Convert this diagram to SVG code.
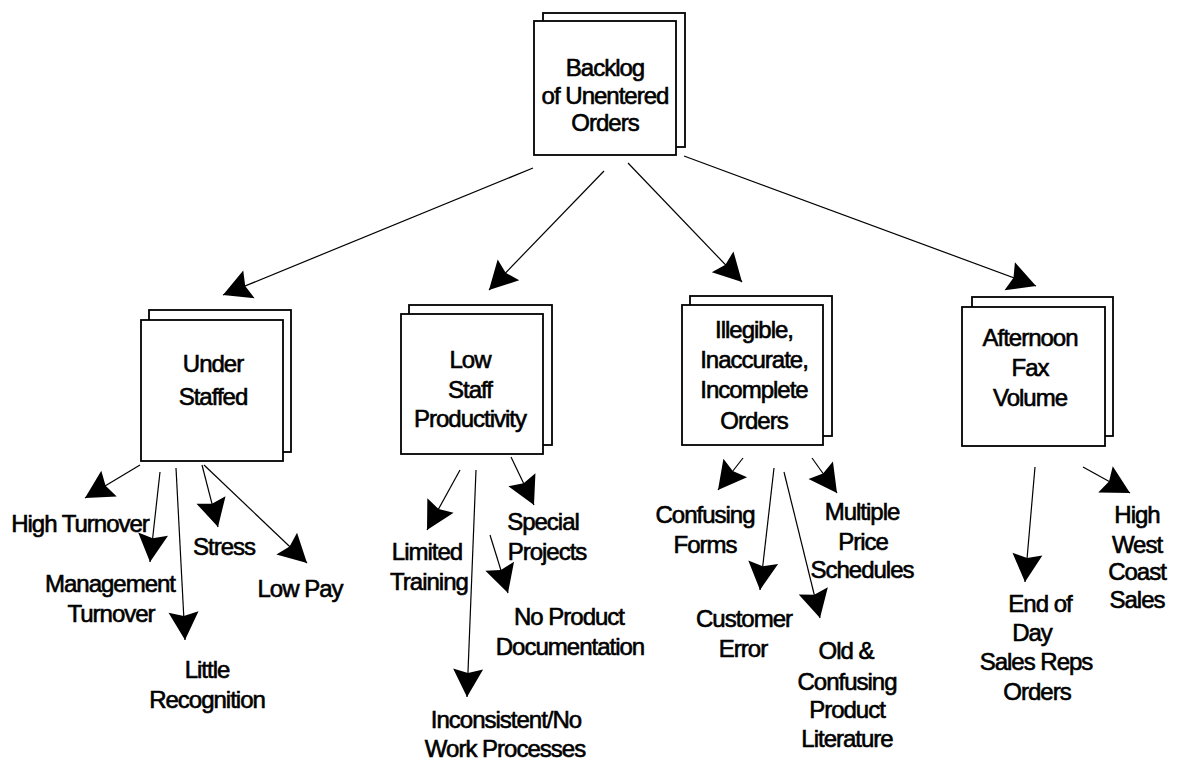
<svg xmlns="http://www.w3.org/2000/svg" width="1185" height="763" viewBox="0 0 1185 763">
  <defs>
    <style>
      .box { fill: #fff; stroke: #000; stroke-width: 1.8; }
      .lbl { font-family: "Liberation Sans", Arial, sans-serif; font-size: 24px; letter-spacing: -1px; fill: #000; stroke: #000; stroke-width: 0.6; text-anchor: middle; }
      .cn line { stroke: #000; stroke-width: 1.2; marker-end: url(#ah); }
    </style>
    <marker id="ah" markerUnits="userSpaceOnUse" markerWidth="34" markerHeight="34" viewBox="-30 -17 34 34" refX="0" refY="0" orient="auto">
      <path d="M0,0 L-28,-15 L-24,0 L-28,15 Z" fill="#000"/>
    </marker>
  </defs>
  <rect width="1185" height="763" fill="#fff"/>

  <!-- root problem -->
  <g id="backlog">
    <rect class="box" x="543" y="13" width="142" height="134"/>
    <rect class="box" x="534" y="21" width="142" height="134"/>
    <text class="lbl" x="605" y="76">Backlog</text>
    <text class="lbl" x="605" y="104">of Unentered</text>
    <text class="lbl" x="605" y="131">Orders</text>
  </g>

  <!-- first-level causes -->
  <g id="under-staffed">
    <rect class="box" x="149" y="310" width="142" height="142"/>
    <rect class="box" x="141" y="320" width="142" height="141"/>
    <text class="lbl" x="213" y="372">Under</text>
    <text class="lbl" x="213" y="405">Staffed</text>
  </g>
  <g id="low-staff-productivity">
    <rect class="box" x="409" y="305" width="143" height="140"/>
    <rect class="box" x="401" y="314" width="142" height="140"/>
    <text class="lbl" x="470" y="368">Low</text>
    <text class="lbl" x="470" y="398">Staff</text>
    <text class="lbl" x="470" y="427">Productivity</text>
  </g>
  <g id="illegible-orders">
    <rect class="box" x="690" y="296" width="142" height="140"/>
    <rect class="box" x="682" y="305" width="141" height="140"/>
    <text class="lbl" x="754" y="338">Illegible,</text>
    <text class="lbl" x="754" y="368">Inaccurate,</text>
    <text class="lbl" x="754" y="398">Incomplete</text>
    <text class="lbl" x="754" y="429">Orders</text>
  </g>
  <g id="afternoon-fax">
    <rect class="box" x="972" y="297" width="141" height="139"/>
    <rect class="box" x="962" y="307" width="143" height="139"/>
    <text class="lbl" x="1030" y="346">Afternoon</text>
    <text class="lbl" x="1030" y="376">Fax</text>
    <text class="lbl" x="1030" y="406">Volume</text>
  </g>

  <!-- second-level causes -->
  <g id="high-turnover"><text class="lbl" x="80" y="532">High Turnover</text></g>
  <g id="management-turnover">
    <text class="lbl" x="110" y="592">Management</text>
    <text class="lbl" x="111" y="622">Turnover</text>
  </g>
  <g id="little-recognition">
    <text class="lbl" x="207" y="678">Little</text>
    <text class="lbl" x="207" y="708">Recognition</text>
  </g>
  <g id="stress"><text class="lbl" x="224" y="555">Stress</text></g>
  <g id="low-pay"><text class="lbl" x="300" y="597">Low Pay</text></g>

  <g id="limited-training">
    <text class="lbl" x="427" y="560">Limited</text>
    <text class="lbl" x="429" y="590">Training</text>
  </g>
  <g id="special-projects">
    <text class="lbl" x="543" y="530">Special</text>
    <text class="lbl" x="547" y="560">Projects</text>
  </g>
  <g id="no-product-documentation">
    <text class="lbl" x="569" y="625">No Product</text>
    <text class="lbl" x="570" y="655">Documentation</text>
  </g>
  <g id="inconsistent-processes">
    <text class="lbl" x="506" y="728">Inconsistent/No</text>
    <text class="lbl" x="505" y="757">Work Processes</text>
  </g>

  <g id="confusing-forms">
    <text class="lbl" x="705" y="523">Confusing</text>
    <text class="lbl" x="705" y="553">Forms</text>
  </g>
  <g id="customer-error">
    <text class="lbl" x="744" y="627">Customer</text>
    <text class="lbl" x="743" y="657">Error</text>
  </g>
  <g id="old-literature">
    <text class="lbl" x="846" y="659">Old &amp;</text>
    <text class="lbl" x="847" y="690">Confusing</text>
    <text class="lbl" x="847" y="718">Product</text>
    <text class="lbl" x="847" y="747">Literature</text>
  </g>
  <g id="multiple-price-schedules">
    <text class="lbl" x="862" y="520">Multiple</text>
    <text class="lbl" x="863" y="550">Price</text>
    <text class="lbl" x="862" y="578">Schedules</text>
  </g>

  <g id="end-of-day-orders">
    <text class="lbl" x="1040" y="612">End of</text>
    <text class="lbl" x="1032" y="641">Day</text>
    <text class="lbl" x="1036" y="670">Sales Reps</text>
    <text class="lbl" x="1037" y="700">Orders</text>
  </g>
  <g id="high-west-coast-sales">
    <text class="lbl" x="1137" y="523">High</text>
    <text class="lbl" x="1137" y="553">West</text>
    <text class="lbl" x="1137" y="580">Coast</text>
    <text class="lbl" x="1137" y="608">Sales</text>
  </g>

  <!-- cause arrows -->
  <g id="connectors" class="cn">
    <line x1="533" y1="168" x2="223" y2="295"/>
    <line x1="604" y1="171" x2="489" y2="290"/>
    <line x1="628" y1="163" x2="742" y2="282"/>
    <line x1="684" y1="156" x2="1036" y2="286"/>

    <line x1="140" y1="465" x2="85" y2="498"/>
    <line x1="160" y1="472" x2="150" y2="562"/>
    <line x1="176" y1="468" x2="185" y2="640"/>
    <line x1="202" y1="465" x2="218" y2="527"/>
    <line x1="204" y1="465" x2="307" y2="563"/>

    <line x1="460" y1="470" x2="427" y2="530"/>
    <line x1="476" y1="470" x2="467" y2="697"/>
    <line x1="511" y1="457" x2="534" y2="505"/>
    <line x1="490" y1="535" x2="508" y2="593"/>

    <line x1="743" y1="458" x2="718" y2="490"/>
    <line x1="774" y1="468" x2="760" y2="590"/>
    <line x1="784" y1="472" x2="820" y2="618"/>
    <line x1="812" y1="458" x2="837" y2="493"/>

    <line x1="1035" y1="467" x2="1025" y2="582"/>
    <line x1="1083" y1="467" x2="1130" y2="493"/>
  </g>
</svg>
